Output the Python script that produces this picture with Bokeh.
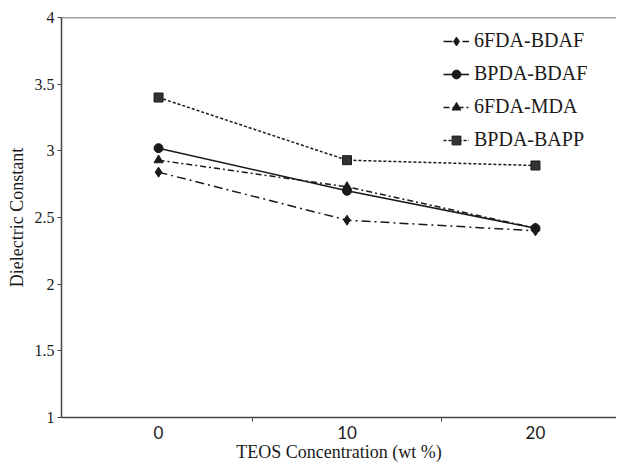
from bokeh.plotting import figure
from bokeh.models import Range1d, FixedTicker, Legend, LegendItem, Span
from bokeh.embed import file_html
from bokeh.resources import INLINE

teos = [0, 10, 20]
fda_bdaf = [2.84, 2.48, 2.40]
bpda_bdaf = [3.02, 2.70, 2.42]
fda_mda = [2.93, 2.73, 2.42]
bpda_bapp = [3.40, 2.93, 2.89]
y_ticks = [1, 1.5, 2, 2.5, 3, 3.5, 4]

INK = "#1a1a1a"
SERIF = "Liberation Serif"

p = figure(width=616, height=464, output_backend="svg", toolbar_location=None,
           x_range=Range1d(-5.15, 24.3), y_range=Range1d(1, 4),
           min_border_left=61, min_border_right=0, min_border_top=17, min_border_bottom=46)
p.outline_line_color = None
p.xgrid.grid_line_color = None
p.ygrid.grid_line_color = None
p.add_layout(Span(location=4, dimension="width", line_color="#444444", line_width=1.5))

r1 = p.line(teos, fda_bdaf, line_color=INK, line_width=1.5, line_dash="9 4 2 4")
m1 = p.scatter(teos, fda_bdaf, marker="diamond", size=10, color=INK)
r2 = p.line(teos, bpda_bdaf, line_color=INK, line_width=1.6)
m2 = p.scatter(teos, bpda_bdaf, marker="circle", size=9, color=INK)
r3 = p.line(teos, fda_mda, line_color=INK, line_width=1.5, line_dash="6 3 2 3")
m3 = p.scatter(teos, fda_mda, marker="triangle", size=9, color=INK)
r4 = p.line(teos, bpda_bapp, line_color=INK, line_width=1.5, line_dash="3 2")
m4 = p.scatter(teos, bpda_bapp, marker="square", size=9, color="#333333", line_color=INK)

# axes
p.xaxis.ticker = FixedTicker(ticks=teos, minor_ticks=[5, 15])
p.xaxis.major_tick_out = 0
p.xaxis.major_tick_in = 0
p.xaxis.minor_tick_out = 4
p.xaxis.minor_tick_in = 0
p.xaxis.major_label_text_font = "Lato"
p.xaxis.major_label_text_font_size = "17px"
p.xaxis.major_label_text_color = INK
p.xaxis.major_label_standoff = 4
p.xaxis.axis_label = "TEOS Concentration (wt %)"
p.xaxis.axis_label_text_font = SERIF
p.xaxis.axis_label_text_font_style = "normal"
p.xaxis.axis_label_text_font_size = "18px"
p.xaxis.axis_label_text_color = INK
p.xaxis.axis_label_standoff = 0
p.xaxis.axis_line_color = "#444444"
p.xaxis.axis_line_width = 1.5
p.xaxis.minor_tick_line_color = "#444444"

p.yaxis.ticker = FixedTicker(ticks=y_ticks, minor_ticks=[])
p.yaxis.major_tick_out = 4
p.yaxis.major_tick_in = 0
p.yaxis.major_label_text_font = SERIF
p.yaxis.major_label_text_font_size = "16px"
p.yaxis.major_label_text_color = INK
p.yaxis.major_label_standoff = 3
p.yaxis.axis_label = "Dielectric Constant"
p.yaxis.axis_label_text_font = SERIF
p.yaxis.axis_label_text_font_style = "normal"
p.yaxis.axis_label_text_font_size = "18px"
p.yaxis.axis_label_text_color = INK
p.yaxis.axis_label_standoff = 5
p.yaxis.axis_line_color = "#444444"
p.yaxis.axis_line_width = 1.5
p.yaxis.major_tick_line_color = "#444444"

legend = Legend(items=[
    LegendItem(label="6FDA-BDAF", renderers=[r1, m1]),
    LegendItem(label="BPDA-BDAF", renderers=[r2, m2]),
    LegendItem(label="6FDA-MDA", renderers=[r3, m3]),
    LegendItem(label="BPDA-BAPP", renderers=[r4, m4]),
], location=(382, 266))
legend.border_line_color = None
legend.background_fill_alpha = 0
legend.padding = 0
legend.margin = 0
legend.spacing = 10
legend.glyph_width = 26
legend.glyph_height = 22
legend.label_height = 22
legend.label_standoff = 5
legend.label_text_font = SERIF
legend.label_text_font_size = "20px"
legend.label_text_color = INK
p.add_layout(legend)

open("out.html", "w").write(file_html(p, INLINE))
